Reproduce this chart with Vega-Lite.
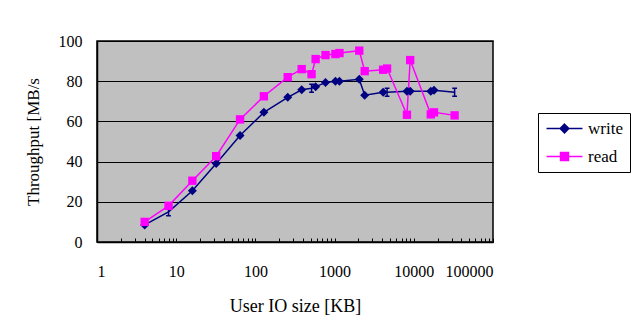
{
  "$schema": "https://vega.github.io/schema/vega-lite/v6.json",
  "width": 396,
  "height": 201,
  "autosize": "none",
  "padding": {"left": 97, "top": 41, "right": 138, "bottom": 90},
  "background": "white",
  "config": {
    "font": "Liberation Serif",
    "view": {"fill": "#C0C0C0", "stroke": "black", "strokeWidth": 1.5},
    "axis": {"labelFont": "Liberation Serif", "titleFont": "Liberation Serif", "labelColor": "black", "titleColor": "black", "titleFontWeight": "normal", "labelFontSize": 16, "titleFontSize": 17, "domainColor": "black", "tickColor": "black"}
  },
  "data": {
    "values": [
      {"size": 4, "series": "write", "throughput": 8.5},
      {"size": 8, "series": "write", "throughput": 15},
      {"size": 16, "series": "write", "throughput": 25.5},
      {"size": 32, "series": "write", "throughput": 39},
      {"size": 64, "series": "write", "throughput": 53},
      {"size": 128, "series": "write", "throughput": 64.5},
      {"size": 256, "series": "write", "throughput": 72},
      {"size": 384, "series": "write", "throughput": 75.7},
      {"size": 512, "series": "write", "throughput": 76.5},
      {"size": 576, "series": "write", "throughput": 77.3},
      {"size": 768, "series": "write", "throughput": 79.3},
      {"size": 1024, "series": "write", "throughput": 80},
      {"size": 1152, "series": "write", "throughput": 80},
      {"size": 2048, "series": "write", "throughput": 81},
      {"size": 2400, "series": "write", "throughput": 73},
      {"size": 4096, "series": "write", "throughput": 74.5},
      {"size": 4600, "series": "write", "throughput": 74.5},
      {"size": 8192, "series": "write", "throughput": 75},
      {"size": 9000, "series": "write", "throughput": 75},
      {"size": 16384, "series": "write", "throughput": 75},
      {"size": 18000, "series": "write", "throughput": 75.5},
      {"size": 32768, "series": "write", "throughput": 74.5},
      {"size": 4, "series": "read", "throughput": 10},
      {"size": 8, "series": "read", "throughput": 18},
      {"size": 16, "series": "read", "throughput": 30.5},
      {"size": 32, "series": "read", "throughput": 42.7},
      {"size": 64, "series": "read", "throughput": 61},
      {"size": 128, "series": "read", "throughput": 72.5},
      {"size": 256, "series": "read", "throughput": 82},
      {"size": 384, "series": "read", "throughput": 86},
      {"size": 512, "series": "read", "throughput": 83.5},
      {"size": 576, "series": "read", "throughput": 91},
      {"size": 768, "series": "read", "throughput": 93},
      {"size": 1024, "series": "read", "throughput": 93.5},
      {"size": 1152, "series": "read", "throughput": 94},
      {"size": 2048, "series": "read", "throughput": 95.2},
      {"size": 2400, "series": "read", "throughput": 85},
      {"size": 4096, "series": "read", "throughput": 85.7},
      {"size": 4600, "series": "read", "throughput": 86.3},
      {"size": 8192, "series": "read", "throughput": 63.3},
      {"size": 9000, "series": "read", "throughput": 90.5},
      {"size": 16384, "series": "read", "throughput": 63.5},
      {"size": 18000, "series": "read", "throughput": 64.5},
      {"size": 32768, "series": "read", "throughput": 63}
    ]
  },
  "encoding": {
    "x": {
      "field": "size", "type": "quantitative",
      "scale": {"type": "log", "domain": [1, 100000], "nice": false},
      "axis": {
        "title": "User IO size [KB]",
        "titleFontSize": 18,
        "values": [1,2,3,4,5,6,7,8,9,10,20,30,40,50,60,70,80,90,100,200,300,400,500,600,700,800,900,1000,2000,3000,4000,5000,6000,7000,8000,9000,10000,20000,30000,40000,50000,60000,70000,80000,90000,100000],
        "labelExpr": "indexof([1,10,100,1000,10000,100000], datum.value) >= 0 ? format(datum.value, 'd') : ''",
        "tickSize": -4,
        "labelPadding": 25,
        "titlePadding": 18,
        "grid": false,
        "domainWidth": 1.5
      }
    },
    "y": {
      "field": "throughput", "type": "quantitative",
      "scale": {"domain": [0, 100], "nice": false},
      "axis": {
        "title": "Throughput [MB/s",
        "values": [0, 20, 40, 60, 80, 100],
        "ticks": false,
        "labelPadding": 15,
        "titlePadding": 16,
        "grid": true,
        "gridColor": "black",
        "gridOpacity": 1,
        "gridWidth": 1.2,
        "domainWidth": 1.5
      }
    },
    "color": {
      "field": "series", "type": "nominal",
      "scale": {"domain": ["write", "read"], "range": ["#000080", "#FF00FF"]},
      "legend": {
        "title": null,
        "orient": "none",
        "legendX": 441,
        "legendY": 72,
        "strokeColor": "black",
        "fillColor": "white",
        "padding": 7,
        "rowPadding": 10,
        "labelFontSize": 17,
        "labelFont": "Liberation Serif",
        "labelColor": "black",
        "symbolSize": 207,
        "symbolOffset": 11,
        "labelOffset": 15,
        "symbolStrokeWidth": 1.5,
        "encode": {
          "symbols": {
            "update": {
              "shape": {"signal": "datum.value == 'write' ? 'M-2.5,0L2.5,0M0,-0.6L0.6,0L0,0.6L-0.6,0Z' : 'M-2.5,0L2.5,0M-0.55,-0.55L0.55,-0.55L0.55,0.55L-0.55,0.55Z'"},
              "fill": {"scale": "color", "field": "value"},
              "stroke": {"scale": "color", "field": "value"},
              "strokeWidth": {"value": 1.5},
              "opacity": {"value": 1}
            }
          }
        }
      }
    }
  },
  "layer": [
    {"mark": {"type": "line", "strokeWidth": 1.5}},
    {
      "transform": [{"filter": "datum.series == 'write' && indexof([8, 512, 4600, 32768], datum.size) < 0"}],
      "mark": {"type": "point", "shape": "diamond", "filled": true, "size": 81, "opacity": 1}
    },
    {
      "transform": [{"filter": "datum.series == 'write' && indexof([8, 512, 4600, 32768], datum.size) >= 0"}],
      "mark": {"type": "point", "shape": "M0,-1L0,1M-0.6,-1L0.6,-1M-0.6,1L0.6,1", "filled": false, "size": 64, "strokeWidth": 1.5, "opacity": 1}
    },
    {
      "transform": [{"filter": "datum.series == 'read'"}],
      "mark": {"type": "point", "shape": "square", "filled": true, "size": 70, "opacity": 1}
    }
  ]
}
